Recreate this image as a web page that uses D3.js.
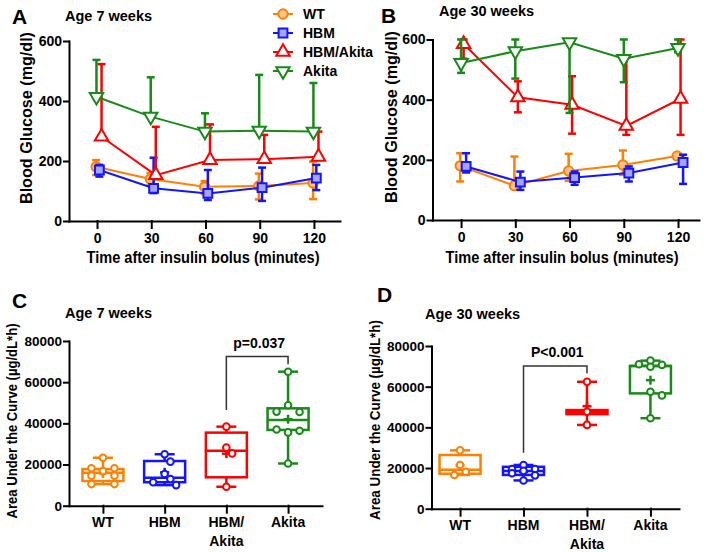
<!DOCTYPE html>
<html><head><meta charset="utf-8">
<script src="https://cdn.jsdelivr.net/npm/d3@7"></script>
<style>
body{margin:0;background:#fff}
svg{display:block}
text{font-family:"Liberation Sans",Arial,sans-serif;font-weight:bold;fill:#000}
</style>
</head><body>
<svg id="chart" width="709" height="552"></svg>
<script>
// ---------------- DATA ----------------
const times = [0, 30, 60, 90, 120];
const groups = ["WT", "HBM", "HBM/Akita", "Akita"];
const glucoseTicks = [0, 200, 400, 600];
const aucTicks = [0, 20000, 40000, 60000, 80000];

// Panel A: age 7 weeks (mean, top of error bar, bottom of error bar)
const wt7 = [181, 140, 114, 117, 127];
const wt7Hi = [203, 160, 133, 158, 198];
const wt7Lo = [153, 118, 90, 72, 73];
const hbm7 = [170, 109, 92, 111, 143];
const hbm7Hi = [187, 211, 170, 178, 187];
const hbm7Lo = [148, 93, 70, 67, 103];
const hbmAkita7 = [281, 153, 203, 206, 214];
const hbmAkita7Hi = [523, 314, 322, 287, 298];
const hbmAkita7Lo = [null, null, null, null, null];
const akita7 = [414, 348, 298, 301, 298];
const akita7Hi = [537, 479, 359, 487, 460];
const akita7Lo = [null, null, null, null, null];

// Panel B: age 30 weeks
const wt30 = [180, 114, 163, 183, 213];
const wt30Hi = [222, 211, 220, 231, 218];
const wt30Lo = [128, null, 130, 150, null];
const hbm30 = [178, 126, 141, 156, 191];
const hbm30Hi = [222, 161, 161, 178, 217];
const hbm30Lo = [158, 100, 117, 128, 120];
const hbmAkita30 = [585, 408, 383, 313, 403];
const hbmAkita30Hi = [600, 461, 478, 540, 600];
const hbmAkita30Lo = [536, 358, 287, 283, 283];
const akita30 = [522, 561, 591, 536, 572];
const akita30Hi = [600, 600, 600, 600, 600];
const akita30Lo = [489, 470, 356, 458, 558];

// Panel C: AUC, age 7 weeks (individual animals)
const auc7WT = [23300, 18200, 18200, 16800, 14600, 14600, 10500, 10500];
const auc7HBM = [25000, 21400, 15400, 13000, 11400, 10000];
const auc7HBMAkita = [38400, 28200, 25400, 9200];
const auc7Akita = [65100, 48800, 45700, 45500, 37000, 36400, 35600, 20500];
const q1_7 = [12000, 11400, 13800, 36800];
const median7 = [16000, 13600, 26700, 41600];
const q3_7 = [17800, 21700, 35500, 47300];
const mean7 = [15700, 16200, 25300, 42000];

// Panel D: AUC, age 30 weeks
const auc30WT = [28700, 21500, 18200, 16600];
const auc30HBM = [21500, 19500, 19500, 18600, 17400, 16400, 13900];
const auc30HBMAkita = [62400, 47700, 41200];
const auc30Akita = [72800, 71000, 70700, 69800, 57500, 55700, 44500];
const q1_30 = [17200, 16600, 46500, 56700];
const median30 = [19200, 18500, 47500, 70200];
const q3_30 = [26400, 20600, 48500, 70200];
const mean30 = [21300, 18100, 50400, 63200];

// Significance brackets [left group, right group, left foot, top, right foot]
const bracket7 = ["HBM/Akita", "Akita", 46500, 72500, 68700];
const bracket7Label = "p=0.037";
const bracket30 = ["HBM", "HBM/Akita", 27500, 70200, 66600];
const bracket30Label = "P<0.001";

// ---------------- STYLE ----------------
const color = {"WT": "#ff8000", "HBM": "#1414ff", "HBM/Akita": "#ff0000", "Akita": "#178a17"};
const markFill = {"WT": "#ffc48a", "HBM": "#a5a5ff", "HBM/Akita": "#ffffff", "Akita": "#ffffff"};
const symbolType = {"WT": d3.symbolCircle, "HBM": d3.symbolSquare, "HBM/Akita": d3.symbolTriangle, "Akita": d3.symbolTriangle};
const symbolSize = {"WT": 68, "HBM": 78, "HBM/Akita": 78, "Akita": 78};
const symbolRot = {"WT": 0, "HBM": 0, "HBM/Akita": 0, "Akita": 180};

const svg = d3.select("#chart");

function styleAxis(sel, fs) {
  sel.attr("font-family", null).attr("font-size", null);
  sel.selectAll("path,line").attr("stroke", "#000").attr("stroke-width", 2).attr("stroke-linecap", "square");
  sel.selectAll("text").attr("font-size", fs).attr("font-weight", "bold").attr("fill", "#000");
}

function label(x, y, txt, fs, anchor, len) {
  const t = svg.append("text").attr("x", x).attr("y", y).attr("font-size", fs)
    .attr("text-anchor", anchor || "start").attr("dominant-baseline", "central").text(txt);
  if (len) t.attr("textLength", len).attr("lengthAdjust", "spacingAndGlyphs");
  return t;
}

function vLabel(cx, cy, txt, fs, len) {
  const t = svg.append("text").attr("transform", `translate(${cx},${cy}) rotate(-90)`)
    .attr("font-size", fs).attr("text-anchor", "middle").attr("dominant-baseline", "central").text(txt);
  if (len) t.attr("textLength", len).attr("lengthAdjust", "spacingAndGlyphs");
}

function marker(g, name, cx, cy) {
  g.append("path")
    .attr("d", d3.symbol().type(symbolType[name]).size(symbolSize[name])())
    .attr("transform", `translate(${cx},${cy}) rotate(${symbolRot[name]})`)
    .attr("fill", markFill[name]).attr("stroke", color[name]).attr("stroke-width", 2);
}

// ---------------- LINE PANELS ----------------
function linePanel(o) {
  const g = svg.append("g");
  const x = d3.scaleLinear().domain(o.xDom).range(o.xRange);
  const y = d3.scaleLinear().domain([0, 600]).range(o.yRange);
  g.append("g").attr("transform", `translate(${o.xRange[0]},0)`)
    .call(d3.axisLeft(y).tickValues(glucoseTicks).tickSize(5).tickSizeOuter(0).tickPadding(2))
    .call(s => styleAxis(s, 14));
  g.append("g").attr("transform", `translate(0,${o.yRange[0]})`)
    .call(d3.axisBottom(x).tickValues(times).tickSize(7).tickSizeOuter(0).tickPadding(5))
    .call(s => styleAxis(s, 14));

  o.series.forEach(s => {
    const sg = g.append("g");
    const dx = o.dodge[s.name];
    const px = i => x(times[i] + dx);
    sg.append("path").datum(s.mean)
      .attr("d", d3.line().x((d, i) => px(i)).y(d => y(d)))
      .attr("fill", "none").attr("stroke", color[s.name]).attr("stroke-width", 2);
    s.mean.forEach((m, i) => {
      [s.hi[i], s.lo[i]].forEach(end => {
        if (end == null) return;
        sg.append("line").attr("x1", px(i)).attr("x2", px(i)).attr("y1", y(m)).attr("y2", y(end))
          .attr("stroke", color[s.name]).attr("stroke-width", 2.5);
        sg.append("line").attr("x1", px(i) - 4).attr("x2", px(i) + 4).attr("y1", y(end)).attr("y2", y(end))
          .attr("stroke", color[s.name]).attr("stroke-width", 2.5);
      });
    });
    s.mean.forEach((m, i) => marker(sg, s.name, px(i), y(m)));
  });
}

linePanel({
  xDom: [-15.5, 134.4], xRange: [69, 340], yRange: [221, 41],
  dodge: {"WT": -0.5, "HBM": 1.3, "HBM/Akita": 2.5, "Akita": -0.3},
  series: [
    {name: "WT", mean: wt7, hi: wt7Hi, lo: wt7Lo},
    {name: "HBM", mean: hbm7, hi: hbm7Hi, lo: hbm7Lo},
    {name: "HBM/Akita", mean: hbmAkita7, hi: hbmAkita7Hi, lo: hbmAkita7Lo},
    {name: "Akita", mean: akita7, hi: akita7Hi, lo: akita7Lo}
  ]
});
linePanel({
  xDom: [-15.8, 131.6], xRange: [432.5, 699], yRange: [220, 39.5],
  dodge: {"WT": -0.5, "HBM": 2.8, "HBM/Akita": 1.4, "Akita": 0},
  series: [
    {name: "WT", mean: wt30, hi: wt30Hi, lo: wt30Lo},
    {name: "HBM", mean: hbm30, hi: hbm30Hi, lo: hbm30Lo},
    {name: "HBM/Akita", mean: hbmAkita30, hi: hbmAkita30Hi, lo: hbmAkita30Lo},
    {name: "Akita", mean: akita30, hi: akita30Hi, lo: akita30Lo}
  ]
});

// legend
const lg = svg.append("g");
groups.forEach((name, i) => {
  const yy = 14 + i * 19;
  lg.append("line").attr("x1", 273).attr("x2", 293).attr("y1", yy).attr("y2", yy)
    .attr("stroke", color[name]).attr("stroke-width", 2);
  marker(lg, name, 283, yy);
  lg.append("text").attr("x", 303).attr("y", yy).attr("font-size", 14)
    .attr("dominant-baseline", "central").text(name);
});

// ---------------- BOX PANELS ----------------
function swarm(vals, y, d, thr) {
  const items = vals.map(v => ({v, y: y(v), dx: 0})).sort((a, b) => a.y - b.y);
  const rows = [];
  items.forEach(it => {
    const r = rows[rows.length - 1];
    if (r && it.y - r[0].y <= thr) r.push(it); else rows.push([it]);
  });
  const placed = [];
  const h = d / 2;
  rows.forEach(r => {
    if (r.length === 1) {
      const it = r[0];
      const cands = [0, h, -h, 2 * h, -2 * h, 3 * h, -3 * h];
      for (const c of cands) {
        if (placed.every(p => Math.hypot(p.dx - c, p.y - it.y) >= 7.5)) { it.dx = c; break; }
      }
    } else if (r.length === 2) { r[0].dx = -d; r[1].dx = d; }
    else if (r.length === 3) { r[0].dx = -d; r[1].dx = d; r[2].dx = 0; }
    else r.forEach((it, k) => it.dx = (k - (r.length - 1) / 2) * d);
    placed.push(...r);
  });
  return items;
}

function boxPanel(o) {
  const g = svg.append("g");
  const x = d3.scalePoint().domain(groups).range(o.xRange).padding(o.pad);
  const y = d3.scaleLinear().domain([0, 80000]).range(o.yRange);
  g.append("g").attr("transform", `translate(${o.xRange[0]},0)`)
    .call(d3.axisLeft(y).tickValues(aucTicks).tickFormat(d3.format("d")).tickSize(5).tickSizeOuter(0).tickPadding(2))
    .call(s => styleAxis(s, 13.5));
  g.append("g").attr("transform", `translate(0,${o.yRange[0]})`)
    .call(d3.axisBottom(x).tickSize(7).tickSizeOuter(0).tickFormat(""))
    .call(s => styleAxis(s, 13.5));
  // category labels
  groups.forEach(name => {
    const parts = name === "HBM/Akita" ? ["HBM/", "Akita"] : [name];
    parts.forEach((p, k) => {
      g.append("text").attr("x", x(name)).attr("y", o.yRange[0] + 16.5 + k * 19)
        .attr("font-size", 14).attr("text-anchor", "middle").attr("dominant-baseline", "central").text(p);
    });
  });

  const bw = 41, cw = 10;
  groups.forEach((name, i) => {
    const cx = x(name), c = color[name], pts = o.points[i];
    const bg = g.append("g").attr("stroke", c).attr("stroke-width", 2.5).attr("fill", "none");
    const lo = d3.min(pts), hi = d3.max(pts);
    bg.append("line").attr("x1", cx).attr("x2", cx).attr("y1", y(hi)).attr("y2", y(o.q3[i]));
    bg.append("line").attr("x1", cx).attr("x2", cx).attr("y1", y(o.q1[i])).attr("y2", y(lo));
    bg.append("line").attr("x1", cx - cw).attr("x2", cx + cw).attr("y1", y(hi)).attr("y2", y(hi));
    bg.append("line").attr("x1", cx - cw).attr("x2", cx + cw).attr("y1", y(lo)).attr("y2", y(lo));
    bg.append("rect").attr("x", cx - bw / 2).attr("width", bw)
      .attr("y", y(o.q3[i])).attr("height", Math.max(0.5, y(o.q1[i]) - y(o.q3[i])));
    bg.append("line").attr("x1", cx - bw / 2).attr("x2", cx + bw / 2)
      .attr("y1", y(o.median[i])).attr("y2", y(o.median[i]));
    const my = y(o.mean[i]);
    bg.append("line").attr("x1", cx - 4.5).attr("x2", cx + 4.5).attr("y1", my).attr("y2", my);
    bg.append("line").attr("x1", cx).attr("x2", cx).attr("y1", my - 4.5).attr("y2", my + 4.5);
    swarm(pts, y, 11.5, 3.2).forEach(p => {
      g.append("circle").attr("cx", cx + p.dx).attr("cy", p.y).attr("r", 3.3)
        .attr("fill", "#fff").attr("stroke", c).attr("stroke-width", 2);
    });
  });

  const b = o.bracket;
  const x1 = x(b[0]), x2 = x(b[1]);
  g.append("path")
    .attr("d", `M${x1},${y(b[2])}V${y(b[3])}H${x2}V${y(b[4])}`)
    .attr("fill", "none").attr("stroke", "#333").attr("stroke-width", 1.5);
  g.append("text").attr("x", (x1 + x2) / 2 + 2).attr("y", y(b[3]) - 13.5)
    .attr("font-size", 14).attr("text-anchor", "middle").attr("dominant-baseline", "central").text(o.bracketLabel);
}

boxPanel({
  xRange: [69, 322], pad: 0.55, yRange: [505.7, 341],
  points: [auc7WT, auc7HBM, auc7HBMAkita, auc7Akita],
  q1: q1_7, median: median7, q3: q3_7, mean: mean7,
  bracket: bracket7, bracketLabel: bracket7Label
});
boxPanel({
  xRange: [431.5, 679], pad: 0.45, yRange: [508.7, 346],
  points: [auc30WT, auc30HBM, auc30HBMAkita, auc30Akita],
  q1: q1_30, median: median30, q3: q3_30, mean: mean30,
  bracket: bracket30, bracketLabel: bracket30Label
});

// ---------------- TEXT ----------------
label(12, 16, "A", 21);
label(65, 16, "Age 7 weeks", 14.5);
label(381, 15, "B", 21);
label(439, 11, "Age 30 weeks", 14.5);
label(12, 300, "C", 21);
label(65, 312.5, "Age 7 weeks", 14.5);
label(377, 294, "D", 21);
label(425, 314, "Age 30 weeks", 14.5);

label(203, 257, "Time after insulin bolus (minutes)", 16, "middle", 233);
label(562, 257, "Time after insulin bolus (minutes)", 16, "middle", 233);
vLabel(26, 118, "Blood Glucose (mg/dl)", 16, 172);
vLabel(391, 117, "Blood Glucose (mg/dl)", 16, 172);
vLabel(12, 421, "Area Under the Curve (µg/dL*h)", 14, 195);
vLabel(375, 420, "Area Under the Curve (µg/dL*h)", 14, 200);
</script>
</body></html>
